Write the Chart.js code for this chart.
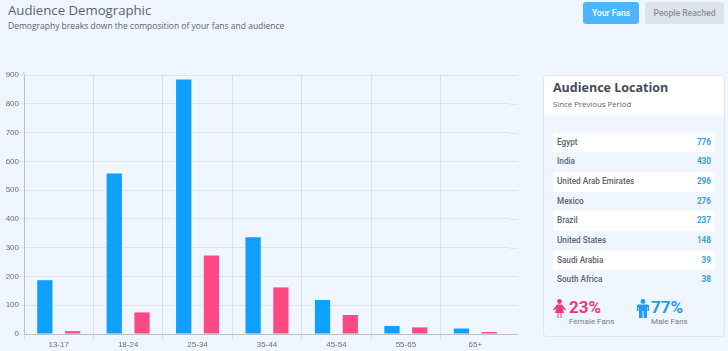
<!DOCTYPE html>
<html>
<head>
<meta charset="utf-8">
<script src="https://cdn.jsdelivr.net/npm/chart.js@4/dist/chart.umd.min.js"></script>
<style>
  html, body { margin: 0; padding: 0; width: 728px; height: 351px; overflow: hidden; background: #f0f6ff; }
  body { position: relative; font-family: "Open Sans", sans-serif; color: #5b6270; }
  h1 { position: absolute; left: 8px; top: 0; margin: 0; font-size: 13.2px; line-height: 20px; font-weight: 400; white-space: nowrap; }
  .sub { position: absolute; left: 8px; top: 19px; font-size: 8.5px; line-height: 14px; white-space: nowrap; }
  .btn { position: absolute; top: 2px; height: 22px; line-height: 22px; text-align: center; border-radius: 3px; font-family: Roboto, sans-serif; font-size: 8.6px; font-weight: 500; }
  #fans { left: 583px; width: 56px; background: #4db5fb; color: #fff; }
  #reached { left: 645px; width: 79px; background: #dde3ea; color: #8b929c; }
  #wrap { position: absolute; left: 0; top: 65px; width: 520px; height: 286px; }
  #panel { position: absolute; left: 543px; top: 75px; width: 180px; height: 260px; border: 1px solid #e0e6ef; border-radius: 4px; background: #f0f6ff; }
  #head { height: 39px; background: #fff; border-radius: 4px 4px 0 0; }
  #head b { position: absolute; left: 9px; top: 3px; font-size: 12.5px; line-height: 18px; font-weight: 700; color: #434a57; }
  #head span { position: absolute; left: 9px; top: 22px; font-size: 7.8px; line-height: 12px; }
  #rows { position: absolute; left: 9px; top: 56.500px; width: 162px; font-family: Roboto, sans-serif; font-size: 8.2px; font-weight: 500; }
  .row { height: 19.700px; line-height: 19.700px; padding: 0 4px; display: flex; justify-content: space-between; }
  .row:nth-child(odd) { background: #fff; }
  .row em { font-style: normal; color: #3aa0d8; font-size: 8.2px; font-weight: 700; }
  .stat { position: absolute; top: 297px; height: 30px; font-family: Roboto, sans-serif; }
  .stat svg { position: absolute; left: 0; top: 2px; }
  .stat b { position: absolute; top: 0; font-size: 17px; line-height: 20px; font-weight: 700; }
  .stat span { position: absolute; top: 19px; font-size: 8px; line-height: 11px; white-space: nowrap; color: #767c87; }
</style>
</head>
<body>
<h1>Audience Demographic</h1>
<div class="sub">Demography breaks down the composition of your fans and audience</div>
<div class="btn" id="fans">Your Fans</div>
<div class="btn" id="reached">People Reached</div>
<div id="wrap"><canvas id="chart" width="520" height="286"></canvas></div>
<div id="panel">
  <div id="head"><b>Audience Location</b><span>Since Previous Period</span></div>
  <div id="rows"></div>
</div>
<div class="stat" style="left:553px">
  <svg width="13" height="19" viewBox="0 0 13 19"><circle cx="6.5" cy="2.5" r="2.4" fill="#ec3b7c"/><path d="M4 5.5h5l4 5-1.2 1L9.5 9l1.5 5H8.5v5h-1v-5h-2v5h-1v-5H2l1.5-5-2.300 2.500L0 10.500z" fill="#ec3b7c"/></svg>
  <b style="left:16px;color:#ec3b7c">23%</b><span style="left:16px">Female Fans</span>
</div>
<div class="stat" style="left:637px">
  <svg width="12" height="19" viewBox="0 0 12 19"><circle cx="6" cy="2.500" r="2.400" fill="#1f9cf0"/><path d="M1.500 5.500h9q1.500 0 1.500 1.500v5h-1.500V8H10v11H6.500v-7h-1v7H2V8h-.5v4H0V7q0-1.500 1.500-1.500z" fill="#1f9cf0"/></svg>
  <b style="left:14px;color:#1f9cf0">77%</b><span style="left:14px">Male Fans</span>
</div>
<script>
const ageGroups = ["13-17", "18-24", "25-34", "35-44", "45-54", "55-65", "65+"];
const maleFans = [187, 558, 884, 336, 118, 28, 19];
const femaleFans = [10, 75, 273, 162, 66, 23, 7];
const yTicks = [0, 100, 200, 300, 400, 500, 600, 700, 800, 900];
const countries = ["Egypt", "India", "United Arab Emirates", "Mexico", "Brazil", "United States", "Saudi Arabia", "South Africa"];
const countryFans = [776, 430, 296, 276, 237, 148, 39, 38];

document.getElementById("rows").innerHTML = countries
  .map((c, i) => `<div class="row"><span>${c}</span><em>${countryFans[i]}</em></div>`)
  .join("");

const hGrid = "rgba(60,80,120,0.11)";
const axisGrey = "#b9bec6";

// horizontal lines and the baseline run a little past the last category
const gridOverhang = {
  id: "gridOverhang",
  afterDraw(chart) {
    const { ctx, chartArea, scales } = chart;
    ctx.save();
    ctx.lineWidth = 1;
    yTicks.forEach((v) => {
      const y = Math.round(scales.y.getPixelForValue(v)) + 0.5;
      ctx.strokeStyle = v === 0 ? axisGrey : hGrid;
      ctx.beginPath();
      ctx.moveTo(chartArea.right, y);
      ctx.lineTo(chartArea.right + 8, y);
      ctx.stroke();
    });
    ctx.strokeStyle = axisGrey;
    ctx.beginPath();
    ctx.moveTo(chartArea.left, chartArea.top);
    ctx.lineTo(chartArea.left, chartArea.top - 3);
    ctx.stroke();
    ctx.restore();
  },
};

const ctx = document.getElementById("chart").getContext("2d");
new Chart(ctx, {
  type: "bar",
  data: {
    labels: ageGroups,
    datasets: [
      { data: maleFans, backgroundColor: "#0fa0fb", categoryPercentage: 0.8, barPercentage: 0.55 },
      { data: femaleFans, backgroundColor: "#fd4a85", categoryPercentage: 0.8, barPercentage: 0.55 },
    ],
  },
  plugins: [gridOverhang],
  options: {
    responsive: false,
    animation: false,
    layout: { padding: { top: 10, right: 10 } },
    plugins: { legend: { display: false }, tooltip: { enabled: false } },
    scales: {
      x: {
        afterFit: (s) => { s.height = 17; },
        grid: {
          color: (c) => (c.tick ? "rgba(60,80,120,0.13)" : "transparent"),
          tickLength: 6,
          offset: true,
        },
        border: { color: axisGrey },
        ticks: { color: "#6d6d6d", font: { family: "Liberation Sans", size: 8 }, padding: 0 },
      },
      y: {
        min: 0,
        max: 900,
        afterFit: (s) => { s.width = 24; },
        afterBuildTicks: (s) => { s.ticks = yTicks.map((v) => ({ value: v })); },
        grid: { color: hGrid, tickLength: 4 },
        border: { color: axisGrey },
        ticks: { color: "#6d6d6d", font: { family: "Liberation Sans", size: 8 }, padding: 1 },
      },
    },
  },
});
</script>
</body>
</html>
